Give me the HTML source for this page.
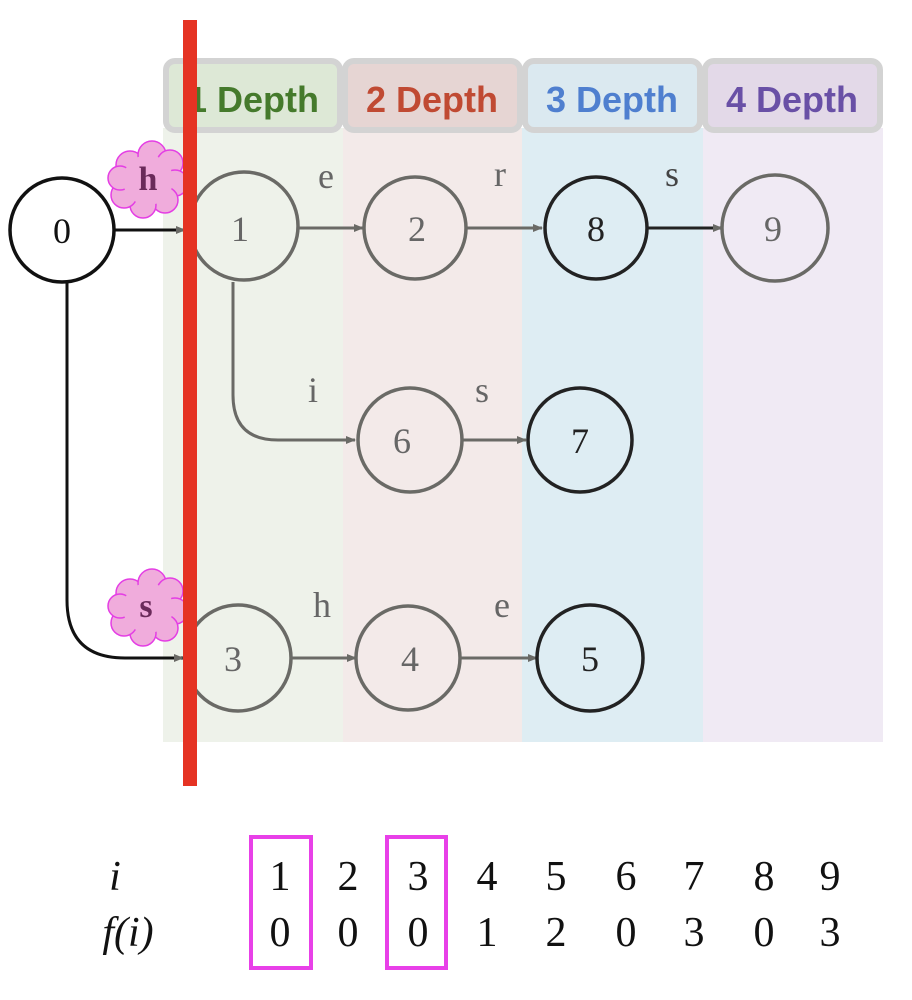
<!DOCTYPE html>
<html><head><meta charset="utf-8"><style>
html,body{margin:0;padding:0;background:#fff;}
body{width:912px;height:1000px;overflow:hidden;position:relative;}
</style></head><body>
<svg width="912" height="1000" viewBox="0 0 912 1000" xmlns="http://www.w3.org/2000/svg" style="position:absolute;left:0;top:0">
<defs>
<marker id="ag" markerWidth="10" markerHeight="10" refX="9" refY="5" orient="auto" markerUnits="userSpaceOnUse"><path d="M0,1 L10,5 L0,9 z" fill="#6a6a66"/></marker>
<marker id="ab" markerWidth="10" markerHeight="10" refX="9" refY="5" orient="auto" markerUnits="userSpaceOnUse"><path d="M0,1 L10,5 L0,9 z" fill="#222"/></marker>
</defs>
<!-- column backgrounds -->
<rect x="163" y="128" width="180" height="614" fill="#eef2ea"/>
<rect x="343" y="128" width="179" height="614" fill="#f3eae9"/>
<rect x="522" y="128" width="181" height="614" fill="#deedf3"/>
<rect x="703" y="128" width="180" height="614" fill="#f0eaf4"/>
<!-- headers -->
<rect x="166" y="61" width="174" height="69" rx="9" fill="#dde8d6" stroke="#d3d3d3" stroke-width="6"/>
<rect x="345" y="61" width="175" height="69" rx="9" fill="#e6d5d3" stroke="#d3d3d3" stroke-width="6"/>
<rect x="525" y="61" width="175" height="69" rx="9" fill="#dbe9f0" stroke="#d3d3d3" stroke-width="6"/>
<rect x="705" y="61" width="175" height="69" rx="9" fill="#e3d9e8" stroke="#d3d3d3" stroke-width="6"/>
<g font-family="Liberation Sans, sans-serif" font-weight="bold" font-size="36" text-anchor="middle">
<text x="253" y="112" fill="#457a2c">1 Depth</text>
<text x="432" y="112" fill="#c04a33">2 Depth</text>
<text x="612" y="112" fill="#4f7fcf">3 Depth</text>
<text x="792" y="112" fill="#6950a6">4 Depth</text>
</g>
<!-- edges -->
<g fill="none" stroke-width="3">
<line x1="114" y1="230" x2="185" y2="230" stroke="#111" marker-end="url(#ag)"/>
<line x1="297" y1="228" x2="363" y2="228" stroke="#6a6a66" marker-end="url(#ag)"/>
<line x1="466" y1="228" x2="542" y2="228" stroke="#6a6a66" marker-end="url(#ag)"/>
<line x1="647" y1="228" x2="722" y2="228" stroke="#222" marker-end="url(#ag)"/>
<path d="M233 282 L233 395 Q233 440 278 440 L355 440" stroke="#6a6a66" marker-end="url(#ag)"/>
<line x1="462" y1="440" x2="526" y2="440" stroke="#6a6a66" marker-end="url(#ag)"/>
<path d="M67 282 L67 600 Q67 658 125 658 L183 658" stroke="#111" marker-end="url(#ag)"/>
<line x1="290" y1="658" x2="356" y2="658" stroke="#6a6a66" marker-end="url(#ag)"/>
<line x1="460" y1="658" x2="537" y2="658" stroke="#6a6a66" marker-end="url(#ag)"/>
</g>
<!-- nodes -->
<g stroke-width="3.5">
<circle cx="62" cy="230" r="52" fill="#fff" stroke="#111"/>
<circle cx="244" cy="226" r="54" fill="#eef2ea" stroke="#6a6a66"/>
<circle cx="415" cy="228" r="51" fill="#f3eae9" stroke="#6a6a66"/>
<circle cx="596" cy="228" r="51" fill="#deedf3" stroke="#222"/>
<circle cx="775" cy="228" r="53" fill="#f0eaf4" stroke="#6a6a66"/>
<circle cx="410" cy="440" r="52" fill="#f3eae9" stroke="#6a6a66"/>
<circle cx="580" cy="440" r="52" fill="#deedf3" stroke="#222"/>
<circle cx="238" cy="658" r="53" fill="#eef2ea" stroke="#6a6a66"/>
<circle cx="408" cy="658" r="52" fill="#f3eae9" stroke="#6a6a66"/>
<circle cx="590" cy="658" r="53" fill="#deedf3" stroke="#222"/>
</g>
<g font-family="Liberation Serif, serif" font-size="36" text-anchor="middle">
<text x="62" y="243" fill="#111">0</text>
<text x="240" y="241" fill="#666">1</text>
<text x="417" y="241" fill="#666">2</text>
<text x="596" y="241" fill="#222">8</text>
<text x="773" y="241" fill="#666">9</text>
<text x="402" y="453" fill="#666">6</text>
<text x="580" y="453" fill="#222">7</text>
<text x="233" y="671" fill="#666">3</text>
<text x="410" y="671" fill="#666">4</text>
<text x="590" y="671" fill="#222">5</text>
<text x="326" y="188" fill="#666">e</text>
<text x="500" y="186" fill="#666">r</text>
<text x="672" y="186" fill="#444">s</text>
<text x="313" y="402" fill="#666">i</text>
<text x="482" y="402" fill="#666">s</text>
<text x="322" y="617" fill="#666">h</text>
<text x="502" y="617" fill="#666">e</text>
</g>
<!-- clouds -->
<g fill="#f0acdc" stroke="#e43ee4" stroke-width="1.5">
<g>
<circle cx="130" cy="165" r="14"/><circle cx="152" cy="155" r="14"/><circle cx="170" cy="163" r="13"/>
<circle cx="175" cy="183" r="13"/><circle cx="165" cy="200" r="13"/><circle cx="143" cy="205" r="13"/>
<circle cx="124" cy="195" r="13"/><circle cx="120" cy="178" r="12"/><circle cx="148" cy="180" r="25" stroke="none"/>
</g>
<g>
<circle cx="130" cy="593" r="14"/><circle cx="152" cy="583" r="14"/><circle cx="170" cy="591" r="13"/>
<circle cx="175" cy="611" r="13"/><circle cx="165" cy="628" r="13"/><circle cx="143" cy="633" r="13"/>
<circle cx="124" cy="623" r="13"/><circle cx="120" cy="606" r="12"/><circle cx="148" cy="608" r="25" stroke="none"/>
</g>
</g>
<g font-family="Liberation Serif, serif" font-size="34" font-weight="bold" text-anchor="middle" fill="#6a2a5a">
<text x="148" y="190">h</text>
<text x="146" y="617">s</text>
</g>
<!-- red line -->
<rect x="183" y="20" width="14" height="766" fill="#e53323"/>
<!-- table -->
<rect x="251" y="837" width="60" height="131" fill="none" stroke="#e840e8" stroke-width="4"/>
<rect x="387" y="837" width="59" height="131" fill="none" stroke="#e840e8" stroke-width="4"/>
<g font-family="Liberation Serif, serif" font-size="42" text-anchor="middle" fill="#111">
<text x="115" y="890" font-style="italic">i</text>
<text x="128" y="946" font-style="italic">f(i)</text>
<text x="280" y="890">1</text><text x="348" y="890">2</text><text x="418" y="890">3</text>
<text x="487" y="890">4</text><text x="556" y="890">5</text><text x="626" y="890">6</text>
<text x="694" y="890">7</text><text x="764" y="890">8</text><text x="830" y="890">9</text>
<text x="280" y="946">0</text><text x="348" y="946">0</text><text x="418" y="946">0</text>
<text x="487" y="946">1</text><text x="556" y="946">2</text><text x="626" y="946">0</text>
<text x="694" y="946">3</text><text x="764" y="946">0</text><text x="830" y="946">3</text>
</g>
</svg>
</body></html>
